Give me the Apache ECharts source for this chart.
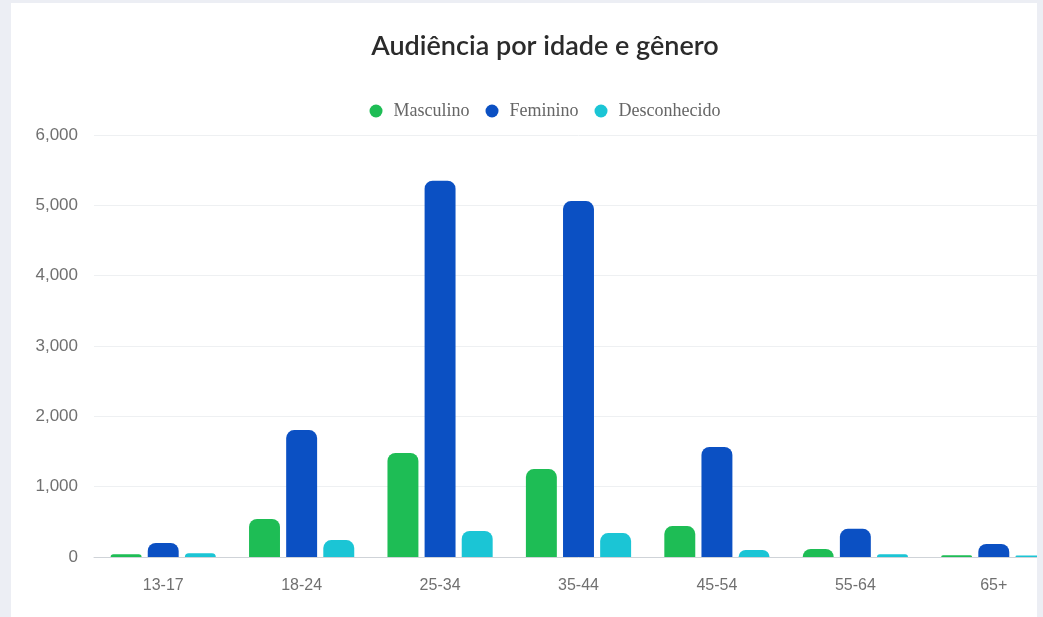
<!DOCTYPE html>
<html>
<head>
<meta charset="utf-8">
<script src="https://cdn.jsdelivr.net/npm/echarts@6/dist/echarts.min.js"></script>
<style>
  html, body { margin: 0; padding: 0; width: 1043px; height: 617px; overflow: hidden; background: #eceef4; }
  #card { position: absolute; left: 11px; top: 3px; width: 1026px; height: 620px; background: #fff; overflow: hidden; }
  #chart { position: absolute; left: 0; top: 0; width: 1068px; height: 614px; }
</style>
</head>
<body>
<div id="card"><div id="chart"></div></div>
<script>
const categories = ['13-17', '18-24', '25-34', '35-44', '45-54', '55-64', '65+'];
const masculino = [40, 540, 1480, 1250, 440, 115, 25];
const feminino = [200, 1805, 5350, 5060, 1565, 400, 185];
const desconhecido = [55, 240, 370, 340, 100, 40, 20];
const seriesNames = ['Masculino', 'Feminino', 'Desconhecido'];
const colors = ['#1ebd55', '#0b50c3', '#1bc5d5'];

const chart = echarts.init(document.getElementById('chart'));
const barStyle = (c) => ({ color: c, borderRadius: [8, 8, 0, 0] });
chart.setOption({
  animation: false,
  title: {
    text: 'Audiência por idade e gênero',
    left: 'center', top: 25,
    textStyle: { fontFamily: 'Lato', fontSize: 27, fontWeight: 600, color: '#2b2b2b' }
  },
  legend: {
    top: 94, left: 'center',
    icon: 'circle', itemWidth: 25, itemHeight: 13, itemGap: 16,
    textStyle: { fontFamily: 'Liberation Serif', fontSize: 18, color: '#666' },
    data: seriesNames
  },
  grid: { left: 83, right: 16, top: 132, bottom: 60 },
  xAxis: {
    type: 'category', data: categories,
    axisTick: { show: false },
    axisLine: { lineStyle: { color: '#cfd3d8' } },
    axisLabel: { fontFamily: 'Liberation Sans', fontSize: 16, color: '#707070', margin: 21 }
  },
  yAxis: {
    type: 'value', min: 0, max: 6000, interval: 1000,
    axisLine: { show: false }, axisTick: { show: false },
    splitLine: { lineStyle: { color: '#eef0f2' } },
    axisLabel: { fontFamily: 'Liberation Sans', fontSize: 17, color: '#707070', margin: 16,
      formatter: (v) => v.toLocaleString('en-US') }
  },
  series: [
    { name: seriesNames[0], type: 'bar', data: masculino, itemStyle: barStyle(colors[0]), barGap: '20%', barCategoryGap: '24%' },
    { name: seriesNames[1], type: 'bar', data: feminino, itemStyle: barStyle(colors[1]), barGap: '20%', barCategoryGap: '24%' },
    { name: seriesNames[2], type: 'bar', data: desconhecido, itemStyle: barStyle(colors[2]), barGap: '20%', barCategoryGap: '24%' }
  ]
});
</script>
</body>
</html>
